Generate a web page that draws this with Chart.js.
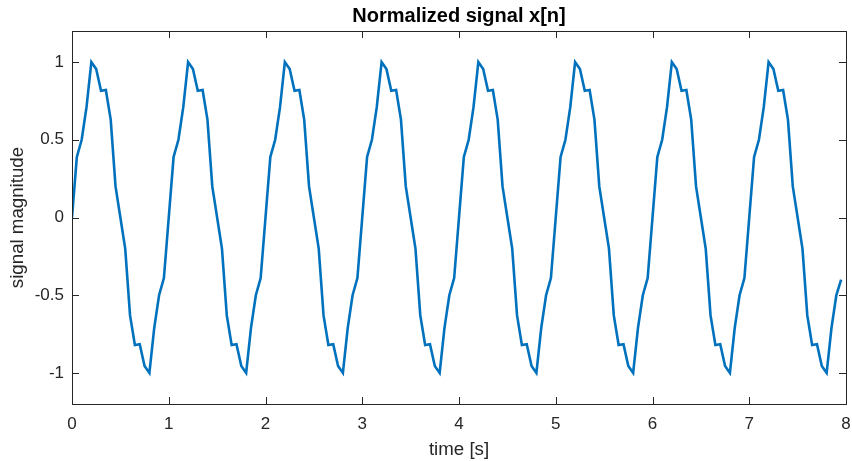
<!DOCTYPE html>
<html>
<head>
<meta charset="utf-8">
<script src="https://cdn.jsdelivr.net/npm/chart.js@4/dist/chart.umd.min.js"></script>
<style>
  html, body { margin: 0; padding: 0; background: #fff; }
  #wrap { width: 852px; height: 461px; }
</style>
</head>
<body>
<div id="wrap"><canvas id="signalChart" width="852" height="461"></canvas></div>
<script>
// sampling rate of x[n] (samples per second)
const fs = 20;

// signal values, one row per second
const signal = [
  0, 0.39, 0.5, 0.71, 1.0, 0.955, 0.815, 0.82, 0.63, 0.2, 0, -0.2, -0.63, -0.82, -0.815, -0.955, -1.0, -0.71, -0.5, -0.39,
  0, 0.39, 0.5, 0.71, 1.0, 0.955, 0.815, 0.82, 0.63, 0.2, 0, -0.2, -0.63, -0.82, -0.815, -0.955, -1.0, -0.71, -0.5, -0.39,
  0, 0.39, 0.5, 0.71, 1.0, 0.955, 0.815, 0.82, 0.63, 0.2, 0, -0.2, -0.63, -0.82, -0.815, -0.955, -1.0, -0.71, -0.5, -0.39,
  0, 0.39, 0.5, 0.71, 1.0, 0.955, 0.815, 0.82, 0.63, 0.2, 0, -0.2, -0.63, -0.82, -0.815, -0.955, -1.0, -0.71, -0.5, -0.39,
  0, 0.39, 0.5, 0.71, 1.0, 0.955, 0.815, 0.82, 0.63, 0.2, 0, -0.2, -0.63, -0.82, -0.815, -0.955, -1.0, -0.71, -0.5, -0.39,
  0, 0.39, 0.5, 0.71, 1.0, 0.955, 0.815, 0.82, 0.63, 0.2, 0, -0.2, -0.63, -0.82, -0.815, -0.955, -1.0, -0.71, -0.5, -0.39,
  0, 0.39, 0.5, 0.71, 1.0, 0.955, 0.815, 0.82, 0.63, 0.2, 0, -0.2, -0.63, -0.82, -0.815, -0.955, -1.0, -0.71, -0.5, -0.39,
  0, 0.39, 0.5, 0.71, 1.0, 0.955, 0.815, 0.82, 0.63, 0.2, 0, -0.2, -0.63, -0.82, -0.815, -0.955, -1.0, -0.71, -0.5, -0.4
];

const xTicks = [0, 1, 2, 3, 4, 5, 6, 7, 8];
const yTicks = [-1, -0.5, 0, 0.5, 1];

const axisColor = "#262626";
const font = "'Liberation Sans', Arial, Helvetica, sans-serif";

const points = signal.map((v, n) => ({ x: n / fs, y: v }));

// MATLAB-like box with ticks pointing inward on all four sides
const boxTicks = {
  id: "boxTicks",
  afterDraw(chart) {
    const { ctx, chartArea: a, scales } = chart;
    const len = 7;
    ctx.save();
    ctx.strokeStyle = axisColor;
    ctx.lineWidth = 1;
    ctx.beginPath();
    xTicks.forEach((t) => {
      const px = Math.round(scales.x.getPixelForValue(t)) + 0.5;
      ctx.moveTo(px, a.bottom);
      ctx.lineTo(px, a.bottom - len);
      ctx.moveTo(px, a.top);
      ctx.lineTo(px, a.top + len);
    });
    yTicks.forEach((t) => {
      const py = Math.round(scales.y.getPixelForValue(t)) + 0.5;
      ctx.moveTo(a.left, py);
      ctx.lineTo(a.left + len, py);
      ctx.moveTo(a.right, py);
      ctx.lineTo(a.right - len, py);
    });
    ctx.stroke();
    ctx.strokeRect(Math.round(a.left) + 0.5, Math.round(a.top) + 0.5,
      Math.round(a.right - a.left), Math.round(a.bottom - a.top));
    ctx.restore();
  },
};

new Chart(document.getElementById("signalChart"), {
  type: "line",
  data: {
    datasets: [
      {
        label: "x[n]",
        data: points,
        borderColor: "#0072BD",
        borderWidth: 2.6,
        pointRadius: 0,
        tension: 0,
        fill: false,
      },
    ],
  },
  options: {
    responsive: false,
    animation: false,
    layout: { padding: { left: 0, right: 6, top: 0, bottom: 0 } },
    plugins: {
      legend: { display: false },
      tooltip: { enabled: false },
      title: {
        display: true,
        text: "Normalized signal x[n]",
        fullSize: false,
        color: "#000",
        font: { family: font, size: 20, weight: "bold", lineHeight: 1.2 },
        padding: { top: 4, bottom: 3 },
      },
    },
    scales: {
      x: {
        type: "linear",
        min: 0,
        max: 8,
        afterBuildTicks(scale) {
          scale.ticks = xTicks.map((v) => ({ value: v }));
        },
        afterFit(scale) {
          scale.height = 57;
          scale.paddingLeft = 0;
          scale.paddingRight = 0;
        },
        grid: { display: false, drawTicks: false },
        border: { display: false },
        ticks: {
          color: axisColor,
          padding: 10,
          font: { family: font, size: 17 },
          callback: (v) => String(v),
        },
        title: {
          display: true,
          text: "time [s]",
          color: axisColor,
          font: { family: font, size: 18.7 },
          padding: { top: 0, bottom: 0 },
        },
      },
      y: {
        type: "linear",
        min: -1.2,
        max: 1.2,
        afterBuildTicks(scale) {
          scale.ticks = yTicks.map((v) => ({ value: v }));
        },
        afterFit(scale) {
          scale.width = 72;
          scale.paddingTop = 0;
          scale.paddingBottom = 0;
        },
        grid: { display: false, drawTicks: false },
        border: { display: false },
        ticks: {
          color: axisColor,
          padding: 8,
          font: { family: font, size: 17 },
          callback: (v) => String(v),
        },
        title: {
          display: true,
          text: "signal magnitude",
          color: axisColor,
          font: { family: font, size: 18.7 },
          padding: { top: 7, bottom: 0 },
        },
      },
    },
  },
  plugins: [boxTicks],
});
</script>
</body>
</html>
